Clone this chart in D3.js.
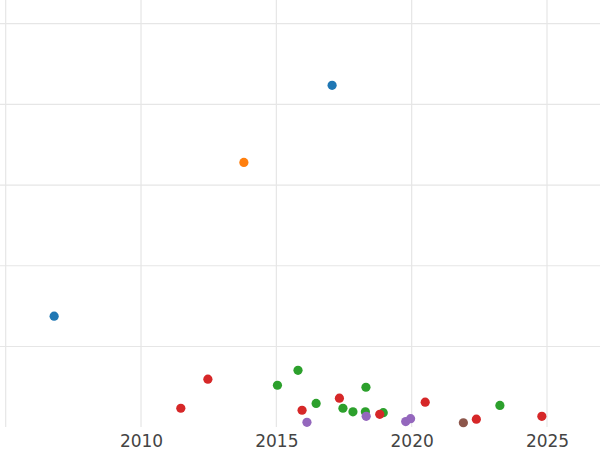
<!DOCTYPE html>
<html>
<head>
<meta charset="utf-8">
<script src="https://cdn.jsdelivr.net/npm/d3@7"></script>
<style>
  html, body { margin: 0; padding: 0; background: #fff; }
  svg { display: block; }
</style>
</head>
<body>
<svg id="chart" width="600" height="450"></svg>
<script>
// ---- Data (year, value) per series ----
const seriesNames = ["A", "B", "C", "D", "E", "F"];
const seriesColors = ["#1f77b4", "#ff7f0e", "#2ca02c", "#d62728", "#9467bd", "#8c564b"];

const seriesA = [[2006.79, 27.5], [2017.06, 84.7]];
const seriesB = [[2013.80, 65.6]];
const seriesC = [[2015.04, 10.4], [2015.80, 14.1], [2016.47, 5.9], [2017.46, 4.7],
                 [2017.83, 3.8], [2018.29, 3.8], [2018.31, 9.9], [2018.95, 3.6], [2023.26, 5.4]];
const seriesD = [[2011.47, 4.7], [2012.47, 11.9], [2015.95, 4.2], [2017.33, 7.2],
                 [2018.82, 3.2], [2020.50, 6.2], [2022.39, 2.0], [2024.81, 2.7]];
const seriesE = [[2016.13, 1.2], [2018.32, 2.7], [2019.78, 1.4], [2019.96, 2.1]];
const seriesF = [[2021.91, 1.1]];

const allSeries = [seriesA, seriesB, seriesC, seriesD, seriesE, seriesF];

const xGridTicks = [2005, 2010, 2015, 2020, 2025];
const xLabelTicks = [2010, 2015, 2020, 2025];
const yGridTicks = [20, 40, 60, 80, 100];

// ---- Layout ----
const W = 600, H = 450;
const plotTop = 0, plotBottom = 427;

const x = d3.scaleLinear().domain([2005, 2025]).range([5.7, 547]);
const y = d3.scaleLinear().domain([0, 100]).range([427.2, 23.6]);

const svg = d3.select("#chart");

// horizontal grid
svg.append("g").selectAll("line").data(yGridTicks).join("line")
  .attr("x1", 0).attr("x2", W)
  .attr("y1", d => y(d)).attr("y2", d => y(d))
  .attr("stroke", "#e6e6e6").attr("stroke-width", 1.2);

// vertical grid
svg.append("g").selectAll("line").data(xGridTicks).join("line")
  .attr("x1", d => x(d)).attr("x2", d => x(d))
  .attr("y1", plotTop).attr("y2", plotBottom)
  .attr("stroke", "#e6e6e6").attr("stroke-width", 1.2);

// x axis labels via d3 axis
const xAxis = d3.axisBottom(x).tickValues(xLabelTicks).tickFormat(d3.format("d")).tickSize(0).tickPadding(0);
const gx = svg.append("g").attr("transform", `translate(0, ${plotBottom})`).call(xAxis);
gx.select(".domain").remove();
gx.selectAll("text")
  .attr("dy", null)
  .attr("y", 20)
  .attr("fill", "#444")
  .style("font-family", "'DejaVu Sans', sans-serif")
  .style("font-size", "17px");

// points
allSeries.forEach((s, i) => {
  svg.append("g").attr("class", "series-" + seriesNames[i])
    .selectAll("circle").data(s).join("circle")
    .attr("cx", d => x(d[0]))
    .attr("cy", d => y(d[1]))
    .attr("r", 4.6)
    .attr("fill", seriesColors[i]);
});
</script>
</body>
</html>
